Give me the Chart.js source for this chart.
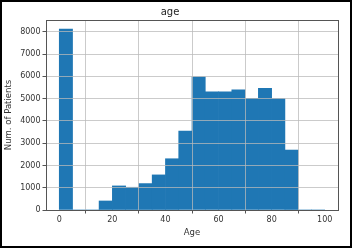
<!DOCTYPE html>
<html>
<head>
<meta charset="utf-8">
<script src="https://cdn.jsdelivr.net/npm/chart.js@4"></script>
<style>
  html, body { margin: 0; padding: 0; background: #fff; }
  #frame { width: 352px; height: 248px; box-sizing: border-box; border: 2px solid #000; background: #fff; }
  canvas { display: block; }
</style>
</head>
<body>
<div id="frame"><canvas id="c" width="348" height="244"></canvas></div>
<script>
// Histogram of age: bins of width 5 from 0 to 100 (bin centers)
const binCenters = [2.5, 7.5, 12.5, 17.5, 22.5, 27.5, 32.5, 37.5, 42.5, 47.5,
                    52.5, 57.5, 62.5, 67.5, 72.5, 77.5, 82.5, 87.5, 92.5, 97.5];
const patientCounts = [8120, 0, 0, 405, 1080, 1020, 1185, 1575, 2300, 3545,
                       5980, 5300, 5300, 5390, 5010, 5465, 5000, 2690, 0, 0];
const xTickValues = [0, 20, 40, 60, 80, 100];
const yTickValues = [0, 1000, 2000, 3000, 4000, 5000, 6000, 7000, 8000];
const chartTitle = 'age';
const xAxisTitle = 'Age';
const yAxisTitle = 'Num. of Patients';

const FONT = 'DejaVu Sans';
const gridColor = 'rgba(185,185,185,0.75)';

const frameBox = {
  id: 'frameBox',
  afterDraw(chart) {
    const {ctx, chartArea: a} = chart;
    ctx.save();
    ctx.strokeStyle = '#555';
    ctx.lineWidth = 1;
    ctx.strokeRect(Math.round(a.left) + 0.5, Math.round(a.top) + 0.5,
                   Math.round(a.right - a.left), Math.round(a.bottom - a.top));
    ctx.restore();
  }
};

new Chart(document.getElementById('c'), {
  type: 'bar',
  data: {
    datasets: [{
      data: binCenters.map((x, i) => ({ x: x, y: patientCounts[i] })),
      backgroundColor: '#1f77b4',
      borderWidth: 0,
      barPercentage: 1.0,
      categoryPercentage: 1.0
    }]
  },
  options: {
    responsive: false,
    animation: false,
    devicePixelRatio: 1,
    layout: { padding: { left: 0, right: 12, top: 0, bottom: 0 } },
    plugins: {
      legend: { display: false },
      tooltip: { enabled: false },
      title: {
        display: true,
        text: chartTitle,
        color: '#222',
        font: { family: FONT, size: 10, weight: 'normal' },
        padding: { top: 4, bottom: 2 }
      }
    },
    scales: {
      x: {
        type: 'linear',
        min: -5,
        max: 105,
        offset: false,
        afterBuildTicks: (s) => { s.ticks = xTickValues.map(v => ({ value: v })); },
        afterFit: (s) => { s.height = 36; },
        ticks: {
          color: '#333',
          font: { family: FONT, size: 8 },
          padding: 2,
          maxRotation: 0,
          callback: (v) => String(v)
        },
        grid: { color: gridColor, lineWidth: 1, z: 1, drawTicks: true, tickLength: 3.5, tickColor: '#555' },
        border: { display: false },
        title: {
          display: true,
          text: xAxisTitle,
          color: '#333',
          font: { family: FONT, size: 8.5 },
          padding: { top: 0, bottom: 8.5 }
        }
      },
      y: {
        min: 0,
        max: Math.max(...patientCounts) * 1.05,
        afterBuildTicks: (s) => { s.ticks = yTickValues.map(v => ({ value: v })); },
        afterFit: (s) => { s.width = 44; },
        ticks: {
          color: '#333',
          font: { family: FONT, size: 8 },
          padding: 2,
          callback: (v) => String(v)
        },
        grid: { color: gridColor, lineWidth: 1, z: 1, drawTicks: true, tickLength: 3.5, tickColor: '#555' },
        border: { display: false },
        title: {
          display: true,
          text: yAxisTitle,
          color: '#333',
          font: { family: FONT, size: 8.5 },
          padding: { top: 1.5, bottom: 0 }
        }
      }
    }
  },
  plugins: [frameBox]
});
</script>
</body>
</html>
